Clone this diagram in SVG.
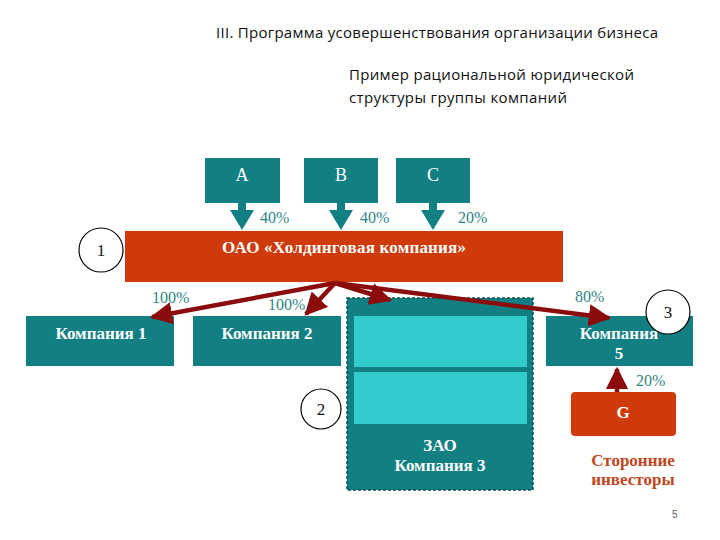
<svg xmlns="http://www.w3.org/2000/svg" width="720" height="540" viewBox="0 0 720 540">
<style>
.hdr{font-family:"Open Sans","Liberation Sans",sans-serif;font-size:15px;fill:#111}
.teal{fill:#128083}
.lt{fill:#33cccc}
.org{fill:#cf3a0a}
.wb{font-family:"Liberation Serif",serif;font-weight:bold;fill:#fff;font-size:17px;text-anchor:middle}
.wn{font-family:"Liberation Serif",serif;fill:#fff;font-size:18px;text-anchor:middle}
.pct{font-family:"Liberation Serif",serif;fill:#2f8585;font-size:16px}
.circ{fill:#fff;stroke:#000;stroke-width:1.2}
.ct{font-family:"Liberation Serif",serif;font-size:17px;text-anchor:middle;fill:#111}
.red{stroke:#8b0c0c;stroke-width:4.5;fill:none;marker-end:url(#ah)}
</style>
<defs>
<marker id="ah" viewBox="0 0 10 10" refX="9" refY="5" markerWidth="5" markerHeight="5" orient="auto" markerUnits="strokeWidth">
<path d="M0,0 L10,5 L0,10 z" fill="#8b0c0c"/>
</marker>
</defs>
<rect width="720" height="540" fill="#fff"/>
<text class="hdr" x="216" y="38" textLength="442">III. Программа усовершенствования организации бизнеса</text>
<text class="hdr" x="349" y="80" textLength="285">Пример рациональной юридической</text>
<text class="hdr" x="349" y="103" textLength="218">структуры группы компаний</text>

<g id="nodeA"><rect class="teal" x="205" y="158" width="75" height="45"/><text class="wn" x="242" y="181">A</text></g>
<g id="nodeB"><rect class="teal" x="304" y="158" width="74" height="45"/><text class="wn" x="341" y="181">B</text></g>
<g id="nodeC"><rect class="teal" x="396" y="158" width="74" height="45"/><text class="wn" x="433" y="181">C</text></g>

<g id="holding"><rect class="org" x="125" y="231" width="438" height="51"/><text class="wb" x="344" y="253" textLength="244">ОАО «Холдинговая компания»</text></g>

<g id="circle1"><circle class="circ" cx="101" cy="250" r="22"/><text class="ct" x="101" y="256">1</text></g>
<g id="circle2"><circle class="circ" cx="321" cy="409" r="20"/><text class="ct" x="321" y="415">2</text></g>

<g id="company1"><rect class="teal" x="26" y="316" width="148" height="50"/><text class="wb" x="101" y="339">Компания 1</text></g>
<g id="company2"><rect class="teal" x="193" y="316" width="148" height="50"/><text class="wb" x="267" y="339">Компания 2</text></g>

<g id="company3">
<rect class="teal" x="347" y="298" width="186" height="192" stroke="#0b4f50" stroke-width="1.5" stroke-dasharray="3,2"/>
<rect class="lt" x="354" y="316" width="173" height="51"/>
<rect class="lt" x="354" y="372" width="173" height="52"/>
<text class="wb" x="440" y="451">ЗАО</text>
<text class="wb" x="440" y="471">Компания 3</text>
</g>

<g id="company5"><rect class="teal" x="546" y="316" width="147" height="50"/><text class="wb" x="619" y="339">Компания</text><text class="wb" x="619" y="359">5</text></g>
<g id="circle3"><circle class="circ" cx="668" cy="312" r="22"/><text class="ct" x="668" y="318">3</text></g>

<g id="nodeG"><rect class="org" x="571" y="392" width="105" height="44" rx="4"/><text class="wb" x="623" y="418">G</text></g>
<g id="investors"><text font-family="Liberation Serif,serif" font-weight="bold" font-size="17" fill="#c2461c" text-anchor="middle"><tspan x="633" y="466">Сторонние</tspan><tspan x="633" y="485">инвесторы</tspan></text></g>

<g id="connectors">
<g fill="#128083">
<rect x="238" y="203" width="8" height="10"/><path d="M230,210 L254,210 L242,230 z"/>
<rect x="337" y="203" width="8" height="10"/><path d="M329,210 L353,210 L341,230 z"/>
<rect x="429" y="203" width="8" height="10"/><path d="M421,210 L445,210 L433,230 z"/>
</g>
<path class="red" d="M335,283 L152,317"/>
<path class="red" d="M335,283 L306,314"/>
<path class="red" d="M335,283 L390,300"/>
<path class="red" d="M335,283 L609,318"/>
<path class="red" d="M617,392 L617,369"/>
</g>

<g id="labels">
<text class="pct" x="152" y="303">100%</text>
<text class="pct" x="268" y="310">100%</text>
<text class="pct" x="575" y="302">80%</text>
<text class="pct" x="636" y="386">20%</text>
<text class="pct" x="260" y="223">40%</text>
<text class="pct" x="360" y="223">40%</text>
<text class="pct" x="458" y="223">20%</text>
</g>
<text x="672" y="518" font-family="Liberation Sans,sans-serif" font-size="10" fill="#666">5</text>
</svg>
